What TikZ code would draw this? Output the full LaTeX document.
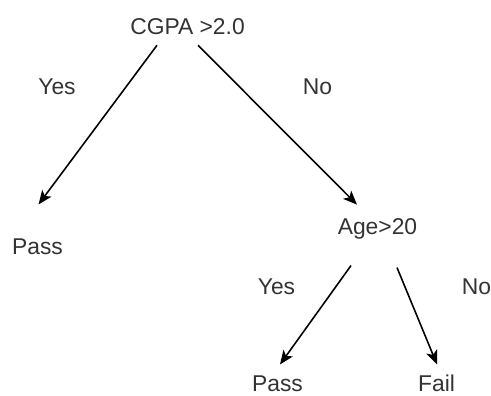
\documentclass[tikz,border=0pt]{standalone}
\usepackage{fontspec}
\setmainfont{Liberation Sans}
\usetikzlibrary{arrows.meta}

\begin{document}
\begin{tikzpicture}[
        lbl/.style={inner sep=0pt, text height=0.328cm, text depth=0pt, text=black!80,
                    font=\fontsize{13}{15}\selectfont},
        arr/.style={line width=0.9pt, -{Stealth[length=0.28cm,width=0.23cm,inset=0.07cm]}}
    ]
        \newcommand{\gap}{0.2}
        \useasboundingbox (0,0) rectangle (9.82,-7.9);

        % tree nodes
        \node[lbl] (cgpa)  at (3.75,-0.534) {CGPA >2.0};
        \node[lbl] (pass1) at (0.75,-4.93) {Pass};
        \node[lbl] (age)   at (7.55,-4.52) {Age>20};
        \node[lbl] (pass2) at (5.55,-7.66) {Pass};
        \node[lbl] (fail)  at (8.73,-7.66) {Fail};

        % branch labels
        \node[lbl] (yes1) at (1.14,-1.73) {Yes};
        \node[lbl] (no1)  at (6.35,-1.72) {No};
        \node[lbl] (yes2) at (5.53,-5.73) {Yes};
        \node[lbl] (no2)  at (9.53,-5.73) {No};

        % branches
        \draw[arr] ([xshift=-0.61cm,yshift=-\gap cm]cgpa.south) -- ([xshift=0.02cm,yshift=0.67cm]pass1.north); %yes
        \draw[arr] ([xshift=0.21cm,yshift=-\gap cm]cgpa.south) -- ([xshift=-0.41cm,yshift=0.256cm]age.north); %no
        \draw[arr] ([xshift=-0.53cm,yshift=-0.62cm]age.south) -- ([xshift=0.05cm,yshift=0.2cm]pass2.north); %yes
        \draw[arr] ([xshift=0.39cm,yshift=-0.66cm]age.south) -- ([xshift=0.01cm,yshift=0.2cm]fail.north); %no
    \end{tikzpicture}
\end{document}
